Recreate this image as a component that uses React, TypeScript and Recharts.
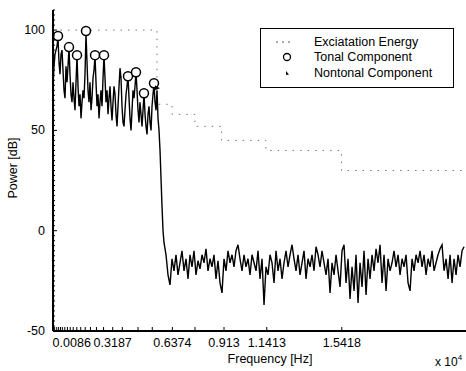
import React from 'react';
import { ComposedChart, Line, Scatter, XAxis, YAxis, Legend } from 'recharts';

const FONT = '"Liberation Sans", Arial, Helvetica, sans-serif';

// Frequency axis in units of x 10^4 Hz
const xTickLabels = [0.0086, 0.3187, 0.6374, 0.913, 1.1413, 1.5418];
const xBandEdges = [
  0.0086, 0.02, 0.03, 0.04, 0.05, 0.063, 0.077, 0.092, 0.108, 0.127, 0.148, 0.172, 0.2,
  0.232, 0.27, 0.3187, 0.37, 0.454, 0.53, 0.6374, 0.758, 0.913, 1.1413, 1.5418,
];
const yMajorTicks = [-50, 0, 50, 100];

// Spectrum, tonal part (fine bins)
const tonalBinWidth = 0.00534;
const tonalRegionPower = [
  72, 82, 88, 90, 92, 96, 84, 78, 88, 90, 80, 70, 66, 82, 74, 82, 91, 78, 68, 64,
  74, 66, 60, 74, 87, 72, 62, 68, 56, 64, 70, 66, 78, 98, 84, 70, 64, 74, 60, 66,
  76, 80, 87, 74, 62, 68, 56, 64, 70, 62, 76, 87, 76, 64, 70, 58, 66, 72, 62, 55,
  64, 72, 68, 58, 52, 62, 72, 81, 76, 62, 54, 52, 60, 68, 72, 77, 66, 56, 50, 60,
  70, 66, 72, 79, 70, 60, 54, 64, 58, 52, 60, 68, 58, 52, 48, 58, 62, 54, 50, 62,
  68, 73, 64, 60, 70, 56, 50, 40, 26, 12, 0, -6,
];

// Spectrum, noise part (coarser bins)
const noiseStartFreq = 0.6033;
const noiseBinWidth = 0.01068;
const noiseRegionPower = [
  -12, -22, -27, -14, -20, -12, -22, -16, -10, -20, -14, -24, -12, -18, -10, -22, -15, -19, -12, -16,
  -9, -20, -14, -18, -12, -24, -15, -26, -31, -14, -20, -10, -16, -12, -18, -10, -7, -14, -20, -12,
  -18, -14, -22, -12, -16, -20, -10, -24, -14, -37, -18, -22, -12, -16, -26, -10, -20, -14, -24, -16,
  -10, -18, -12, -7, -14, -20, -12, -22, -16, -10, -24, -14, -18, -12, -20, -8, -12, -18, -10, -16,
  -22, -14, -31, -16, -22, -12, -20, -28, -10, -7, -26, -14, -34, -18, -30, -12, -36, -16, -28, -10,
  -32, -14, -24, -12, -20, -9, -16, -7, -26, -12, -30, -14, -20, -16, -10, -18, -12, -22, -14, -18,
  -12, -26, -30, -14, -20, -12, -16, -10, -18, -12, -22, -14, -18, -10, -20, -16, -12, -9, -7, -20,
  -14, -24, -12, -26, -14, -22, -12, -18, -10, -8,
];

// Tonal components (circles)
const tonalFreq = [0.0267, 0.0854, 0.1282, 0.1762, 0.2243, 0.2723, 0.4004, 0.4431, 0.4858, 0.5392];
const tonalPower = [97, 91.5, 87.5, 99.5, 87.5, 87.5, 77, 79, 68.5, 73.5];

// Nontonal component
const nontonalFreq = [0.555];
const nontonalPower = [71];

// Excitation energy (step)
const excitFreq = [0, 0.555, 0.636, 0.758, 0.9, 1.137, 1.54, 2.205];
const excitPower = [100, 63, 58, 52, 45, 40, 30, 30];

const spectrum = [
  ...tonalRegionPower.map((p, i) => ({ f: i * tonalBinWidth, p })),
  ...noiseRegionPower.map((p, i) => ({ f: noiseStartFreq + i * noiseBinWidth, p })),
];
const tonalData = tonalFreq.map((f, i) => ({ f, p: tonalPower[i] }));
const nontonalData = nontonalFreq.map((f, i) => ({ f, p: nontonalPower[i] }));
const excitData = excitFreq.map((f, i) => ({ f, p: excitPower[i] }));

const yTicks: number[] = [];
for (let v = -50; v <= 110; v += 2.5) yTicks.push(v);

const YTick = (props: any) => {
  const { x, y, payload } = props;
  const v = payload.value;
  const major = yMajorTicks.includes(v);
  return (
    <g>
      <line x1={x} x2={x + (major ? 4 : 2)} y1={y} y2={y} stroke="#000" strokeWidth={1} />
      {major && (
        <text x={x - 8} y={y} dy={4} textAnchor="end" fontSize={12.5} fontFamily={FONT} fill="#000">
          {v}
        </text>
      )}
    </g>
  );
};

const XTick = (props: any) => {
  const { x, y, payload } = props;
  const v = payload.value;
  const idx = xTickLabels.indexOf(v);
  return (
    <g>
      <line x1={x} x2={x} y1={y} y2={y - 4} stroke="#000" strokeWidth={1} />
      {idx >= 0 && (
        <text
          x={idx === 0 ? x - 2 : x}
          y={y + 16}
          textAnchor={idx === 0 ? 'start' : 'middle'}
          fontSize={12.5}
          fontFamily={FONT}
          fill="#000"
        >
          {v}
        </text>
      )}
    </g>
  );
};

const CircleShape = (props: any) => (
  <circle cx={props.cx} cy={props.cy} r={4.5} fill="#fff" stroke="#000" strokeWidth={1.5} />
);

const NontonalShape = (props: any) => {
  const { cx, cy } = props;
  return <path d={`M${cx - 2},${cy - 3} L${cx + 3},${cy} L${cx - 2},${cy + 2} Z`} fill="#000" />;
};

const LegendBox = () => (
  <div
    style={{
      width: 194,
      height: 60,
      border: '1.5px solid #000',
      background: '#fff',
      boxSizing: 'border-box',
      fontFamily: FONT,
      fontSize: 12.5,
      color: '#000',
      paddingTop: 5,
    }}
  >
    {[
      { name: 'Exciatation Energy', kind: 'line' },
      { name: 'Tonal Component', kind: 'circle' },
      { name: 'Nontonal Component', kind: 'tri' },
    ].map((it) => (
      <div key={it.name} style={{ display: 'flex', alignItems: 'center', height: 15.5 }}>
        <svg width={53} height={14} style={{ flex: 'none' }}>
          {it.kind === 'line' && (
            <line x1={15} x2={33} y1={7} y2={7} stroke="#555" strokeWidth={1} strokeDasharray="2 4" />
          )}
          {it.kind === 'circle' && <circle cx={26} cy={7} r={3.5} fill="#fff" stroke="#000" strokeWidth={1.3} />}
          {it.kind === 'tri' && <path d="M25,5 L28,8.5 L25,9 Z" fill="#000" />}
        </svg>
        <span style={{ whiteSpace: 'nowrap' }}>{it.name}</span>
      </div>
    ))}
  </div>
);

export default function App() {
  return (
    <div style={{ position: 'absolute', left: 0, top: 0, width: 466, height: 371, background: '#fff' }}>
      <ComposedChart width={466} height={371} margin={{ top: 10, right: 0, bottom: 0, left: 0 }}>
        <XAxis
          dataKey="f"
          type="number"
          domain={[0, 2.205]}
          ticks={xBandEdges}
          interval={0}
          allowDataOverflow
          height={40}
          tickSize={0}
          tickMargin={0}
          tickLine={false}
          tick={<XTick />}
          axisLine={{ stroke: '#000', strokeWidth: 2 }}
        />
        <YAxis
          type="number"
          domain={[-50, 110]}
          ticks={yTicks}
          interval={0}
          allowDataOverflow
          width={53}
          tickSize={0}
          tickMargin={0}
          tickLine={false}
          tick={<YTick />}
          axisLine={{ stroke: '#000', strokeWidth: 2 }}
        />
        <Legend
          layout="vertical"
          align="center"
          verticalAlign="middle"
          content={<LegendBox />}
          wrapperStyle={{ left: 260, top: 28, width: 194, height: 60 }}
        />
        <Line
          data={excitData}
          dataKey="p"
          type="stepAfter"
          stroke="#777"
          strokeWidth={1}
          strokeDasharray="1.5 6"
          dot={false}
          isAnimationActive={false}
          legendType="none"
        />
        <Line
          data={spectrum}
          dataKey="p"
          type="linear"
          stroke="#000"
          strokeWidth={1.4}
          dot={false}
          isAnimationActive={false}
        />
        <Scatter data={tonalData} dataKey="p" shape={<CircleShape />} isAnimationActive={false} />
        <Scatter data={nontonalData} dataKey="p" shape={<NontonalShape />} isAnimationActive={false} />
        <text x={270} y={363} textAnchor="middle" fontSize={12.5} fontFamily={FONT} fill="#000">
          Frequency [Hz]
        </text>
        <text
          x={17}
          y={168}
          textAnchor="middle"
          fontSize={12.5}
          fontFamily={FONT}
          fill="#000"
          transform="rotate(-90 17 168)"
        >
          Power [dB]
        </text>
        <text x={435} y={366} fontSize={12} fontFamily={FONT} fill="#000">
          x 10<tspan dy={-6} fontSize={8}>4</tspan>
        </text>
      </ComposedChart>
    </div>
  );
}
